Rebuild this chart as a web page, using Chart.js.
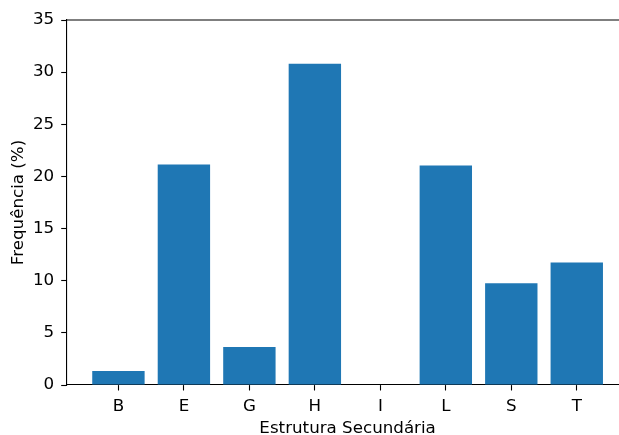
<!DOCTYPE html>
<html>
<head>
<meta charset="utf-8">
<script src="https://cdn.jsdelivr.net/npm/chart.js@4"></script>
<style>
  html, body { margin: 0; padding: 0; background: #fff; overflow: hidden; }
  #wrap { width: 640px; height: 435px; }
</style>
</head>
<body>
<div id="wrap"><canvas id="chart" width="640" height="435"></canvas></div>
<script>
const categories = ["B", "E", "G", "H", "I", "L", "S", "T"];
const frequencies = [1.35, 21.15, 3.65, 30.8, 0, 21.05, 9.75, 11.75];
const yTicks = [0, 5, 10, 15, 20, 25, 30, 35];

// matplotlib-like top spine (no right spine)
const topSpine = {
  id: "topSpine",
  afterDraw(chart) {
    const { ctx, chartArea } = chart;
    ctx.save();
    ctx.strokeStyle = "#000";
    ctx.lineWidth = 1.1;
    ctx.beginPath();
    ctx.moveTo(chartArea.left, chartArea.top);
    ctx.lineTo(chartArea.right, chartArea.top);
    ctx.stroke();
    ctx.restore();
  }
};

Chart.defaults.font.family = "'DejaVu Sans', sans-serif";
Chart.defaults.font.size = 16.7;
Chart.defaults.color = "#000";

new Chart(document.getElementById("chart"), {
  type: "bar",
  data: {
    datasets: [{
      label: "Frequência (%)",
      data: frequencies.map((v, i) => ({ x: i, y: v })),
      backgroundColor: "#1f77b4",
      borderWidth: 0,
      barPercentage: 0.8,
      categoryPercentage: 1.0,
    }]
  },
  options: {
    responsive: false,
    animation: false,
    layout: { padding: { top: 20, right: 11.5, left: 0, bottom: 0 } },
    plugins: { legend: { display: false }, tooltip: { enabled: false } },
    scales: {
      x: {
        type: "linear",
        offset: false,
        min: -0.79, max: 7.79,
        afterFit: s => { s.height = 50; },
        afterBuildTicks: s => { s.ticks = categories.map((_, i) => ({ value: i })); },
        ticks: { callback: v => categories[v] ?? "", padding: 6, autoSkip: false, maxRotation: 0 },
        grid: { offset: false, drawOnChartArea: false, tickLength: 5.5, tickColor: "#000", tickWidth: 1.1 },
        border: { color: "#000", width: 1.1 },
        title: { display: true, text: "Estrutura Secundária", font: { lineHeight: 0.8 }, padding: { top: 0, bottom: 0 } }
      },
      y: {
        min: 0, max: 35,
        afterFit: s => { s.width = 66.7; },
        afterBuildTicks: s => { s.ticks = yTicks.map(v => ({ value: v })); },
        ticks: { padding: 7 },
        grid: { drawOnChartArea: false, tickLength: 5.5, tickColor: "#000", tickWidth: 1.1 },
        border: { color: "#000", width: 1.1 },
        title: { display: true, text: "Frequência (%)", font: { lineHeight: 1 }, padding: { top: 10, bottom: 0 } }
      }
    }
  },
  plugins: [topSpine]
});
</script>
</body>
</html>
